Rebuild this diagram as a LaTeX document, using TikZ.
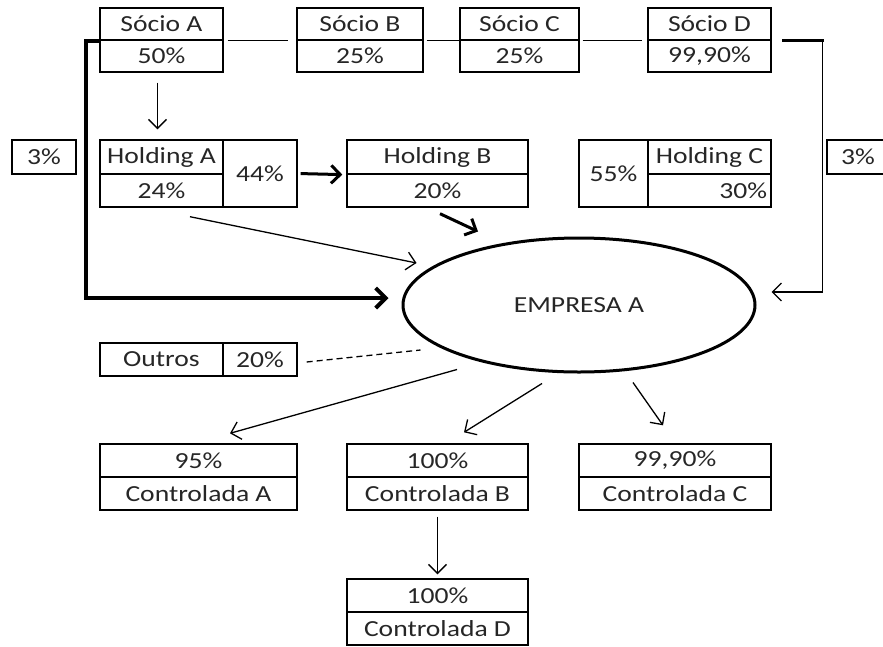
\documentclass[tikz,border=0pt]{standalone}
\usepackage{fontspec}
\setmainfont{Carlito}[FakeStretch=1.2]
\usetikzlibrary{arrows.meta,shapes.geometric}

\begin{document}
\begin{tikzpicture}[x = 1pt, y = -1pt, font = \fontsize{23}{27}\selectfont,
	cell/.style = {draw, line width = 1.4pt, inner sep = 0pt, text = black!85, minimum height = 33pt},
	arr/.style = {line width = 1.3pt, -{Straight Barb[length = 9pt, width = 18pt]}},
	fatarr/.style = {line width = 3pt, -{Straight Barb[length = 9pt, width = 18pt]}}]
	\useasboundingbox (0,0) rectangle (883,646);
	\node[cell, minimum width = 123pt, minimum height = 32pt] (sa1) at (161.5,24) {Sócio A};
	\node[cell, minimum width = 123pt, minimum height = 32pt] (sa2) at (161.5,56) {50\%};
	\node[cell, minimum width = 126pt, minimum height = 32pt] (sb1) at (360,24) {Sócio B};
	\node[cell, minimum width = 126pt, minimum height = 32pt] (sb2) at (360,56) {25\%};
	\node[cell, minimum width = 119pt, minimum height = 32pt] (sc1) at (519.5,24) {Sócio C};
	\node[cell, minimum width = 119pt, minimum height = 32pt] (sc2) at (519.5,56) {25\%};
	\node[cell, minimum width = 123pt, minimum height = 32pt] (sd1) at (709.5,24) {Sócio D};
	\node[cell, minimum width = 123pt, minimum height = 32pt] (sd2) at (709.5,56) {99,90\%};
	\node[cell, minimum width = 64pt, minimum height = 34pt] (pl) at (44,157) {3\%};
	\node[cell, minimum width = 62pt, minimum height = 34pt] (pr) at (858,157) {3\%};
	\node[cell, minimum width = 123pt, minimum height = 34pt] (ha1) at (161.5,157) {Holding A};
	\node[cell, minimum width = 123pt] (ha2) at (161.5,190.5) {24\%};
	\node[cell, minimum width = 74pt, minimum height = 67pt] (ha3) at (260,173.5) {44\%};
	\node[cell, minimum width = 181pt, minimum height = 34pt] (hb1) at (437.5,157) {Holding B};
	\node[cell, minimum width = 181pt] (hb2) at (437.5,190.5) {20\%};
	\node[cell, minimum width = 69pt, minimum height = 67pt] (hc3) at (613.5,173.5) {55\%};
	\node[cell, minimum width = 123pt, minimum height = 34pt] (hc1) at (709.5,157) {Holding C};
	\node[cell, minimum width = 123pt, text width = 115pt, align = right] (hc2) at (709.5,190.5) {30\%};
	\node[ellipse, draw, line width = 3pt, minimum width = 352pt, minimum height = 134pt, text = black!85] (emp) at (579,305) {EMPRESA A};
	\node[cell, minimum width = 123pt] (ot1) at (161.5,359.5) {Outros};
	\node[cell, minimum width = 74pt] (ot2) at (260,359.5) {20\%};
	\node[cell, minimum width = 197pt] (ca1) at (198.5,460.5) {95\%};
	\node[cell, minimum width = 197pt] (ca2) at (198.5,493.5) {Controlada A};
	\node[cell, minimum width = 181pt] (cb1) at (437.5,460.5) {100\%};
	\node[cell, minimum width = 181pt] (cb2) at (437.5,493.5) {Controlada B};
	\node[cell, minimum width = 192pt] (cc1) at (675,460.5) {99,90\%};
	\node[cell, minimum width = 192pt] (cc2) at (675,493.5) {Controlada C};
	\node[cell, minimum width = 181pt] (cd1) at (437.5,595.5) {100\%};
	\node[cell, minimum width = 181pt] (cd2) at (437.5,628.5) {Controlada D};

	\draw[line width = 1.3pt, shorten <= 4pt, shorten >= 8pt] (sa1.south east) -- (sb1.south west);
	\draw[line width = 1.3pt, shorten <= 3pt] (sb1.south east) -- (sc1.south west);
	\draw[line width = 1.3pt, shorten <= 3pt, shorten >= 5pt] (sc1.south east) -- (sd1.south west);
	\draw[line width = 4pt, -{Straight Barb[length = 10pt, width = 20pt]}] (sa1.south west) -- ++(-13,0) |- ([xshift = -13pt, yshift = 7pt]emp.west);
	\draw[line width = 2.5pt, line cap = rect, shorten <= 12pt] (sd1.south east) -- ++(51,0) coordinate (dturn);
	\draw[arr] (dturn) |- ([xshift = 15pt, yshift = 13pt]emp.east);
	\draw[arr, shorten <= 10pt, shorten >= 10pt] ([xshift = -4pt]sa2.south) -- ([xshift = -4pt]ha1.north);
	\draw[fatarr, shorten <= 3pt, shorten >= 4pt] (ha3.east) -- (hb1.south west);
	\draw[arr] ([xshift = 28.5pt, yshift = -9pt]ha2.south) -- ([xshift = 15pt, yshift = 42pt]emp.west);
	\draw[fatarr] ([xshift = 2.5pt, yshift = -6pt]hb2.south) -- ([xshift = -101pt, yshift = 5pt]emp.north);
	\draw[line width = 1.3pt, dash pattern = on 6pt off 4pt] ([xshift = 9pt, yshift = -2.5pt]ot2.east) -- ([xshift = 19pt, yshift = -45pt]emp.west);
	\draw[arr] ([xshift = -122pt, yshift = 4pt]emp.south) -- ([xshift = 31.5pt, yshift = 10pt]ca1.north);
	\draw[arr] ([xshift = -37pt, yshift = -10pt]emp.south) -- ([xshift = 26.5pt, yshift = 11pt]cb1.north);
	\draw[arr] ([xshift = 54pt, yshift = -9pt]emp.south) -- ([xshift = -12pt, yshift = 18pt]cc1.north);
	\draw[arr, shorten <= 6pt, shorten >= 4pt] (cb2.south) -- (cd1.north);
\end{tikzpicture}
\end{document}
